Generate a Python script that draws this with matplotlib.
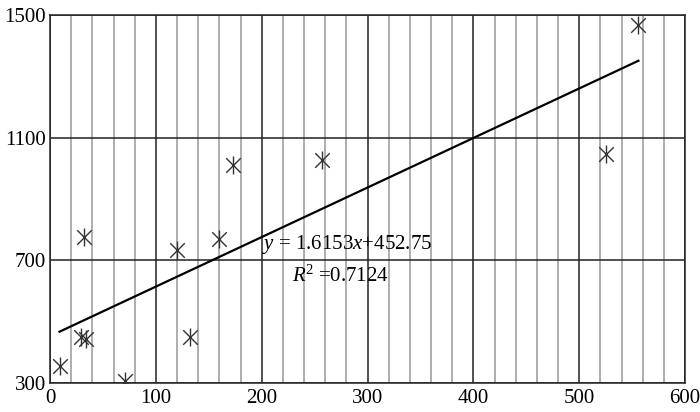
import numpy as np
import matplotlib.pyplot as plt
from matplotlib.ticker import MultipleLocator

plt.rcParams['font.family'] = ['Liberation Serif', 'DejaVu Serif']
plt.rcParams['mathtext.fontset'] = 'custom'
plt.rcParams['mathtext.rm'] = 'Liberation Serif'
plt.rcParams['mathtext.it'] = 'Liberation Serif:italic'

# data
xs = [9, 32, 29, 34, 71, 120, 132, 160, 173, 257, 525, 556]
ys = [355, 776, 450, 444, 307, 735, 450, 768, 1011, 1026, 1048, 1468]

slope = 1.6153
intercept = 452.75
r2 = 0.7124

xticks = [0, 100, 200, 300, 400, 500, 600]
yticks = [300, 700, 1100, 1500]

fig = plt.figure(figsize=(7, 4.12), dpi=100)
ax = fig.add_axes([50/700, 1 - 383/412, 635/700, 368/412])

ax.set_xlim(0, 600)
ax.set_ylim(300, 1500)
ax.set_xticks(xticks)
ax.set_yticks(yticks)
ax.xaxis.set_minor_locator(MultipleLocator(20))

ax.grid(which='minor', axis='x', color='#a8a8a8', linewidth=1.3)
ax.grid(which='major', axis='both', color='#222222', linewidth=1.1)
ax.set_axisbelow(True)

ax.tick_params(which='both', length=0, labelsize=15, colors='black')
ax.tick_params(axis='x', pad=4)
ax.tick_params(axis='y', pad=3)
for s in ax.spines.values():
    s.set_color('#222222')
    s.set_linewidth(1.1)

# trend line across the data range
lx = np.array([min(xs), max(xs)])
ax.plot(lx, slope * lx + intercept, color='black', linewidth=1.6, zorder=3)

# asterisk markers: an x with a vertical bar
ax.scatter(xs, ys, marker='x', s=110, color='#333333', linewidths=1.0, zorder=4)
ax.scatter(xs, ys, marker='|', s=150, color='#333333', linewidths=1.0, zorder=4)

ax.text(262/700, 1 - 245/412, r'$y$ = 1.6153$x$+452.75', transform=fig.transFigure,
        fontsize=15, va='center', ha='left')
ax.text(292/700, 1 - 276/412, r'$R$$^2$ =0.7124', transform=fig.transFigure,
        fontsize=15, va='center', ha='left')

fig.savefig('out.png', dpi=100, facecolor='white')
